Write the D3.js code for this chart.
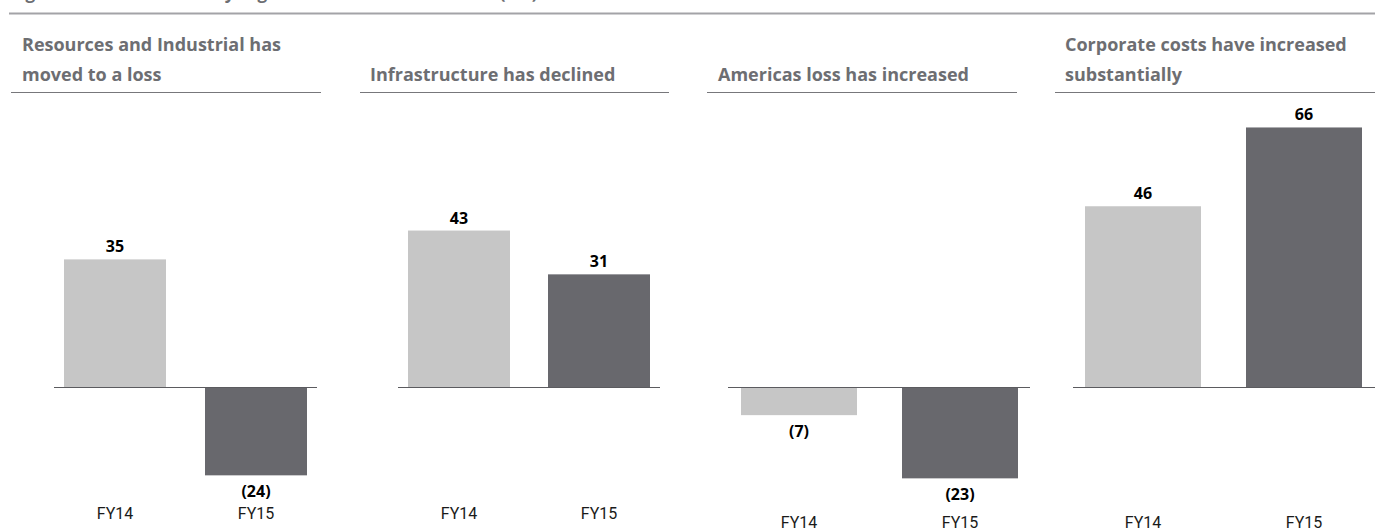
<!DOCTYPE html>
<html>
<head>
<meta charset="UTF-8">
<title>Key segment movements</title>
<script src="https://cdn.jsdelivr.net/npm/d3@7"></script>
<style>
    body { margin: 0; background: #fff; }
    svg { display: block; }
    .head { font-family: "Open Sans", sans-serif; font-weight: 700; font-size: 18px; fill: #6d6e72; }
    .val { font-family: "Open Sans", sans-serif; font-weight: 700; font-size: 16px; fill: #000; }
    .cat text { font-family: "Liberation Sans Narrow", "Roboto", sans-serif; font-size: 16px; fill: #1a1a1a; }
</style>
</head>
<body>
<svg id="chart" width="1375" height="531"></svg>
<script>
    // data
    const periods = ["FY14", "FY15"];
    const headers = [
        ["Resources and Industrial has", "moved to a loss"],
        ["Infrastructure has declined"],
        ["Americas loss has increased"],
        ["Corporate costs have increased", "substantially"]
    ];
    const resourcesIndustrial = [35, -24];
    const infrastructure = [43, 31];
    const americas = [-7, -23];
    const corporate = [46, 66];
    const figureTitle = "Figure 4: Movement in key segment contributions to EBIT ($m)";

    const series = [resourcesIndustrial, infrastructure, americas, corporate];
    const barColors = ["#c6c6c6", "#68686d"];

    // layout for each small panel (pixels only)
    const panels = [
        {axis: [54, 317], bars: [64, 307], bw: 102, k: 3.66, catY: 520, hx: 22, rule: [11, 321]},
        {axis: [398, 660], bars: [408, 650], bw: 102, k: 3.65, catY: 520, hx: 370, rule: [360, 669]},
        {axis: [728, 1030], bars: [741, 1018], bw: 116, k: 3.95, catY: 529, hx: 718, rule: [707, 1017]},
        {axis: [1073, 1375], bars: [1085, 1362], bw: 116, k: 3.94, catY: 529, hx: 1065, rule: [1055, 1375]}
    ];
    const baseY = 387.5;

    const svg = d3.select('#chart');

    // figure title, cut off by the top edge as in the source, and its rule
    svg.append('text')
        .attr('class', 'head')
        .attr('x', 11).attr('y', -1)
        .style('font-size', '17px')
        .text(figureTitle);
    svg.append('rect')
        .attr('x', 9).attr('y', 12.5)
        .attr('width', 1366).attr('height', 2)
        .attr('fill', '#a3a3a7');

    const fmt = v => v < 0 ? '(' + Math.abs(v) + ')' : String(v);

    panels.forEach(function (p, i) {
        const values = series[i];
        const g = svg.append('g');

        // header
        const lines = headers[i];
        lines.forEach(function (line, j) {
            g.append('text')
                .attr('class', 'head')
                .attr('x', p.hx)
                .attr('y', 81 - (lines.length - 1 - j) * 30)
                .text(line);
        });
        g.append('line')
            .attr('x1', p.rule[0]).attr('x2', p.rule[1])
            .attr('y1', 92.5).attr('y2', 92.5)
            .attr('stroke', '#77777b').attr('stroke-width', 1);

        const gap = (p.bars[1] - p.bars[0] - 2 * p.bw);
        const x = d3.scaleBand()
            .domain(periods)
            .range(p.bars)
            .paddingInner(gap / (p.bw + gap))
            .paddingOuter(0);

        const y = d3.scaleLinear()
            .domain([-40, 80])
            .range([baseY + 40 * p.k, baseY - 80 * p.k]);

        g.selectAll('rect.bar')
            .data(values)
            .join('rect')
            .attr('class', 'bar')
            .attr('x', (d, j) => x(periods[j]))
            .attr('width', x.bandwidth())
            .attr('y', d => Math.min(y(d), y(0)))
            .attr('height', d => Math.abs(y(d) - y(0)))
            .attr('fill', (d, j) => barColors[j]);

        // zero line
        g.append('line')
            .attr('x1', p.axis[0]).attr('x2', p.axis[1])
            .attr('y1', y(0)).attr('y2', y(0))
            .attr('stroke', '#5b5b5f').attr('stroke-width', 1.2);

        g.selectAll('text.val')
            .data(values)
            .join('text')
            .attr('class', 'val')
            .attr('text-anchor', 'middle')
            .attr('x', (d, j) => x(periods[j]) + x.bandwidth() / 2)
            .attr('y', d => d < 0 ? y(d) + 22 : y(d) - 7)
            .text(fmt);

        const cat = g.append('g')
            .attr('class', 'cat')
            .attr('transform', 'translate(0,' + (p.catY - 12) + ')')
            .call(d3.axisBottom(x).tickSize(0).tickPadding(0));
        cat.select('.domain').remove();
        cat.selectAll('text').attr('dy', '0.71em').attr('font-size', null).attr('font-family', null);
    });
</script>
</body>
</html>
